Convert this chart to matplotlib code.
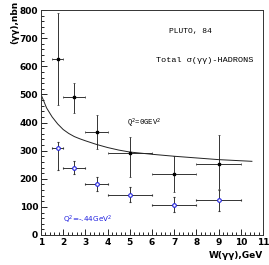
import matplotlib
matplotlib.use("Agg")
import matplotlib.pyplot as plt
from matplotlib.ticker import MultipleLocator

# Q^2 = 0 data (black)
w0 = [1.75, 2.5, 3.5, 5.0, 7.0, 9.0]
w0_lo = [1.5, 2.0, 3.0, 4.0, 6.0, 8.0]
w0_hi = [2.0, 3.0, 4.0, 6.0, 8.0, 10.0]
s0 = [627, 489, 367, 291, 217, 253]
s0_lo = [463, 433, 305, 205, 152, 162]
s0_hi = [789, 542, 428, 347, 280, 354]

# Q^2 = -.44 data (blue)
w1 = [1.75, 2.5, 3.5, 5.0, 7.0, 9.0]
w1_lo = [1.5, 2.0, 3.0, 4.0, 6.0, 8.0]
w1_hi = [2.0, 3.0, 4.0, 6.0, 8.0, 10.0]
s1 = [308, 238, 181, 142, 107, 125]
s1_lo = [231, 218, 155, 118, 82, 86]
s1_hi = [329, 262, 207, 170, 135, 160]

# fit curve
cw = [1.0, 1.25, 1.5, 1.75, 2.0, 2.25, 2.5, 2.75, 3.0, 3.5, 4.0, 4.5, 5.0,
      6.0, 7.0, 8.0, 9.0, 10.5]
cs = [500, 452, 420, 395, 375, 361, 350, 342, 335, 322, 311, 302, 295,
      287, 280, 274, 268, 262]

xticks = [1, 2, 3, 4, 5, 6, 7, 8, 9, 10, 11]
yticks = [0, 100, 200, 300, 400, 500, 600, 700, 800]

fig = plt.figure(figsize=(2.69, 2.65), dpi=100)
ax = fig.add_axes([41/269, 1 - 235/265, (263-41)/269, (235-10)/265])

ecol = "#333333"
for x, xl, xh, y, yl, yh in zip(w0, w0_lo, w0_hi, s0, s0_lo, s0_hi):
    ax.errorbar([x], [y], xerr=[[x - xl], [xh - x]], yerr=[[y - yl], [yh - y]],
                fmt="s", ms=2, color="black", ecolor=ecol, elinewidth=0.7,
                capsize=0.8, capthick=0.5)
for x, xl, xh, y, yl, yh in zip(w1, w1_lo, w1_hi, s1, s1_lo, s1_hi):
    ax.errorbar([x], [y], xerr=[[x - xl], [xh - x]], yerr=[[y - yl], [yh - y]],
                fmt="o", ms=2.6, mfc="white", mec="#2020e0", mew=0.8, ecolor=ecol,
                elinewidth=0.7, capsize=0.8, capthick=0.5, zorder=3)

ax.plot(cw, cs, color="#222222", lw=0.7)

ax.set_xlim(1, 11)
ax.set_ylim(0, 800)
ax.set_xticks(xticks)
ax.set_yticks(yticks)
ax.xaxis.set_minor_locator(MultipleLocator(0.2))
ax.yaxis.set_minor_locator(MultipleLocator(20))
ax.tick_params(which="both", direction="in", top=False, right=False, width=0.6)
ax.tick_params(which="major", length=4, labelsize=6.5, pad=2)
ax.tick_params(which="minor", length=2)
for lab in ax.get_xticklabels() + ax.get_yticklabels():
    lab.set_fontweight("bold")
for sp in ax.spines.values():
    sp.set_linewidth(0.7)
    sp.set_color("#333333")

fig.text(263/269, 1 - 255/265, "W(γγ),GeV", ha="right", va="center",
         fontsize=6.5, fontweight="bold")
fig.text(15/269, 1 - 1/265, "(γγ),nbn", rotation=90, ha="center", va="top",
         fontsize=6.5, fontweight="bold")

ax.text(190/269, 1 - 32/265, "PLUTO, 84", transform=fig.transFigure,
        ha="center", va="center", fontsize=5.8, family="Liberation Mono")
ax.text(156/269, 1 - 60/265, "Total σ(γγ)-HADRONS", transform=fig.transFigure,
        ha="left", va="center", fontsize=6.1, family="Liberation Mono")
ax.text(127/269, 1 - 123/265, "Q$^2$=0GEV$^2$", transform=fig.transFigure,
        ha="left", va="center", fontsize=5.2, family="Liberation Mono")
ax.text(63/269, 1 - 220/265, "Q$^2$=-.44GeV$^2$", transform=fig.transFigure,
        ha="left", va="center", fontsize=5.2, color="#2020e0")

fig.savefig("out.png", dpi=100)
